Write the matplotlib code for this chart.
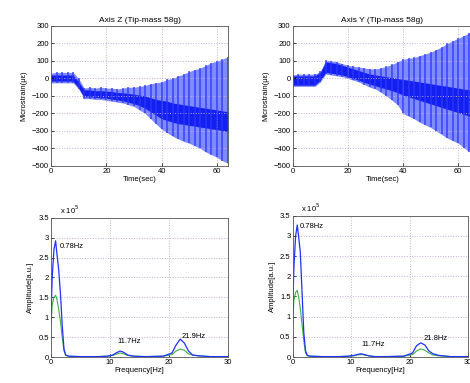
import matplotlib
matplotlib.use("Agg")
import matplotlib.pyplot as plt

plt.rcParams['font.family'] = ['Liberation Sans', 'DejaVu Sans']

# ---- time-domain data (envelopes read every 2 s) ----
t_env = [0, 2, 4, 6, 8, 10, 12, 14, 16, 18, 20, 22, 24, 26, 28, 30, 32,
         34, 36, 38, 40, 42, 44, 46, 48, 50, 52, 54, 56, 58, 60, 62, 64]

z_upper = [30, 35, 35, 35, 35, 0, -55, -50, -55, -50, -55, -55, -60, -55, -50, -50, -45,
           -40, -30, -25, -20, -5, 0, 15, 25, 40, 50, 60, 75, 90, 100, 110, 125]
z_lower = [-25, -25, -25, -25, -25, -60, -115, -115, -120, -120, -125, -130, -135, -140, -150, -160, -180,
           -200, -230, -260, -290, -310, -330, -345, -360, -370, -385, -400, -420, -435, -450, -470, -485]
z_core_up = [20, 20, 20, 20, 20, -20, -65, -65, -70, -70, -72, -75, -80, -82, -85, -90, -95,
             -100, -110, -120, -125, -130, -140, -145, -150, -155, -160, -165, -170, -175, -180, -185, -190]
z_core_lo = [-15, -15, -15, -15, -15, -55, -105, -105, -108, -110, -112, -118, -122, -128, -135, -145, -155,
             -170, -190, -210, -230, -240, -250, -258, -262, -268, -272, -278, -282, -288, -292, -298, -305]

y_upper = [20, 25, 25, 25, 25, 40, 105, 100, 95, 85, 75, 70, 65, 60, 55, 55, 60,
           70, 80, 95, 110, 115, 120, 130, 140, 150, 165, 180, 200, 215, 230, 245, 260]
y_lower = [-45, -45, -45, -45, -45, -20, 25, 20, 15, 10, 0, -10, -20, -35, -50, -60, -80,
           -100, -125, -150, -200, -215, -230, -250, -265, -280, -300, -320, -340, -355, -370, -395, -420]
y_core_up = [15, 15, 15, 15, 15, 35, 95, 90, 85, 75, 65, 55, 45, 35, 25, 20, 15,
             10, 5, 0, -5, -10, -15, -20, -25, -30, -35, -40, -45, -50, -55, -60, -65]
y_core_lo = [-38, -38, -38, -38, -38, -10, 35, 30, 25, 20, 10, 0, -10, -22, -32, -42, -52,
             -60, -70, -80, -95, -105, -115, -125, -135, -145, -155, -165, -175, -185, -195, -205, -215]

# ---- frequency-domain data ----
freq = [0, 0.2, 0.5, 0.78, 1.0, 1.3, 1.6, 1.9, 2.2, 2.5, 3.0, 5, 8, 9.5, 10.5, 11.0, 11.7, 12.3,
        13, 14, 16, 19, 20.5, 21.2, 21.9, 22.6, 23.3, 24, 25, 27, 30]
z_amp1 = [1.0, 2.0, 2.7, 2.92, 2.6, 2.2, 1.6, 0.8, 0.2, 0.05, 0.02, 0.01, 0.01, 0.02, 0.05, 0.1, 0.15, 0.12,
          0.05, 0.02, 0.01, 0.02, 0.1, 0.3, 0.45, 0.35, 0.15, 0.05, 0.03, 0.01, 0.01]
z_amp2 = [0.8, 1.3, 1.5, 1.55, 1.45, 1.2, 0.9, 0.5, 0.15, 0.04, 0.02, 0.01, 0.01, 0.02, 0.04, 0.07, 0.1, 0.08,
          0.04, 0.02, 0.01, 0.02, 0.06, 0.15, 0.2, 0.17, 0.08, 0.05, 0.03, 0.01, 0.01]
y_amp1 = [1.2, 2.2, 3.0, 3.27, 3.0, 2.6, 1.6, 0.6, 0.15, 0.04, 0.02, 0.01, 0.01, 0.02, 0.04, 0.06, 0.08, 0.06,
          0.03, 0.01, 0.01, 0.02, 0.1, 0.28, 0.35, 0.3, 0.15, 0.08, 0.04, 0.01, 0.01]
y_amp2 = [0.8, 1.4, 1.6, 1.65, 1.5, 1.2, 0.8, 0.4, 0.1, 0.03, 0.02, 0.01, 0.01, 0.02, 0.03, 0.05, 0.06, 0.05,
          0.03, 0.01, 0.01, 0.02, 0.06, 0.15, 0.2, 0.17, 0.1, 0.05, 0.03, 0.01, 0.01]

titles = ["Axis Z (Tip-mass 58g)", "Axis Y (Tip-mass 58g)"]
peak_labels_z = [("0.78Hz", 1.5, 2.77), ("11.7Hz", 11.3, 0.4), ("21.9Hz", 22.1, 0.51)]
peak_labels_y = [("0.78Hz", 1.25, 3.24), ("11.7Hz", 11.8, 0.3), ("21.8Hz", 22.4, 0.45)]

W, H = 470, 383
fig = plt.figure(figsize=(W / 100, H / 100), dpi=100)

def px_axes(left, top, right, bottom):
    return fig.add_axes([left / W, 1 - bottom / H, (right - left) / W, (bottom - top) / H])

FS = 5.5
grid_kw = dict(color='#c8b0d8', linestyle=':', linewidth=0.7)

def style(ax):
    ax.tick_params(direction='in', length=2, labelsize=FS, pad=1.5, width=0.5)
    for s in ax.spines.values():
        s.set_linewidth(0.6)
        s.set_color('#555555')
    ax.grid(True, **grid_kw)

def time_panel(ax, up, lo, cup, clo, title):
    ax.fill_between(t_env, lo, up, color='#7f8aff', linewidth=0)
    ax.vlines(t_env, lo, up, color='#2a36ff', linewidth=1.2, alpha=0.8)
    ax.fill_between(t_env, clo, cup, color='#1420f0', linewidth=0)
    ax.set_ylim(-500, 300)
    ax.set_yticks(range(-500, 301, 100))
    ax.set_xticks([0, 20, 40, 60])
    ax.set_xlabel("Time(sec)", fontsize=FS, labelpad=1)
    ax.set_ylabel("Microstrain(\u03bc\u03b5)", fontsize=FS, labelpad=3)
    ax.set_title(title, fontsize=FS + 0.5, pad=3)
    style(ax)

def freq_panel(ax, a1, a2, labels):
    ax.plot(freq, a2, color='#40b040', linewidth=0.8)
    ax.plot(freq, a1, color='#2030ff', linewidth=0.9)
    ax.set_xlim(0, 30)
    ax.set_ylim(0, 3.5)
    ax.set_xticks([0, 10, 20, 30])
    ax.set_yticks([0, 0.5, 1, 1.5, 2, 2.5, 3, 3.5])
    ax.set_yticklabels(['0', '0.5', '1', '1.5', '2', '2.5', '3', '3.5'])
    ax.set_xlabel("Frequency[Hz]", fontsize=FS, labelpad=1)
    ax.set_ylabel("Amplitude[a.u.]", fontsize=FS, labelpad=3)
    ax.text(0.05, 1.01, r"x 10$^5$", transform=ax.transAxes, fontsize=FS, va='bottom', ha='left')
    for txt, x, y in labels:
        ax.text(x, y, txt, fontsize=FS, va='center', ha='left')
    style(ax)

ax1 = px_axes(51, 26, 228, 166)
ax1.set_xlim(0, 64)
time_panel(ax1, z_upper, z_lower, z_core_up, z_core_lo, titles[0])

ax2 = px_axes(292.7, 26, 472, 166)
ax2.set_xlim(0, 65)
time_panel(ax2, y_upper, y_lower, y_core_up, y_core_lo, titles[1])

ax3 = px_axes(51, 217.7, 228, 357)
freq_panel(ax3, z_amp1, z_amp2, peak_labels_z)

ax4 = px_axes(292.7, 215.7, 468, 357)
freq_panel(ax4, y_amp1, y_amp2, peak_labels_y)

fig.savefig("out.png", dpi=100)
